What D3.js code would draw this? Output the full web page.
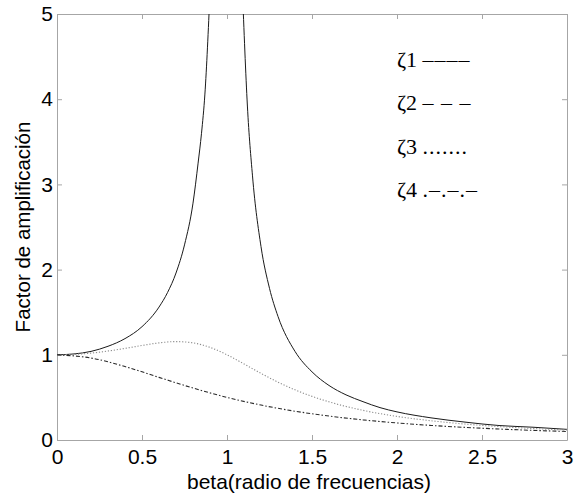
<!DOCTYPE html>
<html>
<head>
<meta charset="utf-8">
<script src="https://cdn.jsdelivr.net/npm/d3@7"></script>
<style>
  body { margin: 0; background: #fff; }
  svg { display: block; }
</style>
</head>
<body>
<div id="chart"></div>
<script>
// values
const beta1L = [0, 0.1, 0.2, 0.3, 0.4, 0.5, 0.6, 0.65, 0.7, 0.75, 0.8, 0.83, 0.85, 0.87, 0.9];
const amp1L  = [1, 1.01, 1.04, 1.10, 1.19, 1.33, 1.56, 1.73, 1.96, 2.29, 2.78, 3.25, 3.60, 4.06, 5.26];
const beta1R = [1.09, 1.12, 1.15, 1.2, 1.25, 1.3, 1.4, 1.5, 1.6, 1.7, 1.8, 1.9, 2.0, 2.2, 2.4, 2.6, 2.8, 3.0];
const amp1R  = [5.32, 3.92, 3.10, 2.27, 1.78, 1.45, 1.04, 0.80, 0.64, 0.53, 0.45, 0.38, 0.33, 0.26, 0.21, 0.17, 0.15, 0.125];

const beta3 = [0, 0.1, 0.2, 0.3, 0.4, 0.5, 0.6, 0.7, 0.8, 0.9, 1.0, 1.1, 1.2, 1.3, 1.4, 1.5, 1.6, 1.8, 2.0, 2.2, 2.4, 2.6, 2.8, 3.0];
const amp3  = [1, 1.005, 1.02, 1.044, 1.075, 1.109, 1.14, 1.155, 1.14, 1.087, 1.0, 0.893, 0.782, 0.679, 0.589, 0.512, 0.448, 0.348, 0.277, 0.226, 0.187, 0.158, 0.135, 0.117];

const beta4 = [0, 0.2, 0.4, 0.6, 0.8, 1.0, 1.2, 1.4, 1.6, 1.8, 2.0, 2.2, 2.4, 2.6, 2.8, 3.0];
const amp4  = [1, 0.962, 0.862, 0.735, 0.61, 0.5, 0.41, 0.338, 0.281, 0.236, 0.2, 0.171, 0.148, 0.129, 0.113, 0.1];

const xTicks = [0, 0.5, 1, 1.5, 2, 2.5, 3];
const yTicks = [0, 1, 2, 3, 4, 5];
const legendNames   = ['\u03B61', '\u03B62', '\u03B63', '\u03B64'];
const legendSamples = ['\u2013\u2013\u2013\u2013', '\u2013 \u2013 \u2013', '.......', '.\u2013.\u2013.\u2013'];

const [width, height] = [574, 497];
const margin = { left: 57, right: 7, top: 14, bottom: 57 };
const axisColor = '#a6a6a6';
const sans = 'Liberation Sans, Arial, sans-serif';

const svg = d3.select('#chart')
    .append('svg')
    .attr('width', width)
    .attr('height', height);

const x = d3.scaleLinear().domain([0, 3]).range([margin.left, width - margin.right]);
const y = d3.scaleLinear().domain([0, 5]).range([height - margin.bottom, margin.top]);

// clip to the plot box
svg.append('clipPath').attr('id', 'plot')
    .append('rect')
    .attr('x', x(0)).attr('y', y(5))
    .attr('width', x(3) - x(0)).attr('height', y(0) - y(5));

// axes: ticks inside, box all round
function styleAxis(g) {
    g.select('.domain').attr('stroke', axisColor);
    g.selectAll('.tick line').attr('stroke', axisColor);
    g.selectAll('.tick text')
        .attr('fill', '#000')
        .style('font-family', sans)
        .style('font-size', '21px');
}

svg.append('g')
    .attr('transform', `translate(0 ${y(0)})`)
    .call(d3.axisBottom(x).tickValues(xTicks).tickSize(-5).tickPadding(9).tickSizeOuter(0).tickFormat(d3.format('')))
    .call(styleAxis);
svg.append('g')
    .attr('transform', `translate(0 ${y(5)})`)
    .call(d3.axisTop(x).tickValues(xTicks).tickSize(-5).tickSizeOuter(0).tickFormat(''))
    .call(styleAxis);
svg.append('g')
    .attr('transform', `translate(${x(0)} 0)`)
    .call(d3.axisLeft(y).tickValues(yTicks).tickSize(-5).tickPadding(4).tickSizeOuter(0).tickFormat(d3.format('d')))
    .call(styleAxis);
svg.append('g')
    .attr('transform', `translate(${x(3)} 0)`)
    .call(d3.axisRight(y).tickValues(yTicks).tickSize(-5).tickSizeOuter(0).tickFormat(''))
    .call(styleAxis);

// curves
const line = d3.line()
    .x((d) => x(d[0]))
    .y((d) => y(d[1]))
    .curve(d3.curveMonotoneX);

const series = [
    { b: beta1L, a: amp1L, color: '#1a1a1a', dash: null, w: 1 },
    { b: beta1R, a: amp1R, color: '#1a1a1a', dash: null, w: 1 },
    { b: beta3, a: amp3, color: '#8c8c8c', dash: '1.2,1.8', w: 1.1 },
    { b: beta4, a: amp4, color: '#2a2a2a', dash: '4,2,1.5,2', w: 1.1 }
];

svg.append('g')
    .attr('clip-path', 'url(#plot)')
    .selectAll('path')
    .data(series)
    .join('path')
    .attr('d', (s) => line(s.b.map((v, i) => [v, s.a[i]])))
    .attr('fill', 'none')
    .attr('stroke', (s) => s.color)
    .attr('stroke-width', (s) => s.w)
    .attr('stroke-dasharray', (s) => s.dash);

// legend (plain text, serif)
const legend = svg.append('g')
    .selectAll('text')
    .data(legendNames)
    .join('text')
    .attr('x', 397)
    .attr('y', (d, i) => 67 + i * 43.3)
    .style('font-family', 'Liberation Serif, Times New Roman, serif')
    .style('font-size', '22px')
    .attr('fill', '#000');
legend.append('tspan').text((d) => d + ' ');
legend.append('tspan')
    .style('letter-spacing', '1px')
    .text((d, i) => legendSamples[i]);

// axis titles
svg.append('text')
    .attr('x', 309)
    .attr('y', 489)
    .attr('text-anchor', 'middle')
    .style('font-family', sans)
    .style('font-size', '21px')
    .text('beta(radio de frecuencias)');

svg.append('text')
    .attr('transform', `translate(30 ${(y(0) + y(5)) / 2}) rotate(-90)`)
    .attr('text-anchor', 'middle')
    .style('font-family', sans)
    .style('font-size', '20.5px')
    .text('Factor de amplificación');
</script>
</body>
</html>
